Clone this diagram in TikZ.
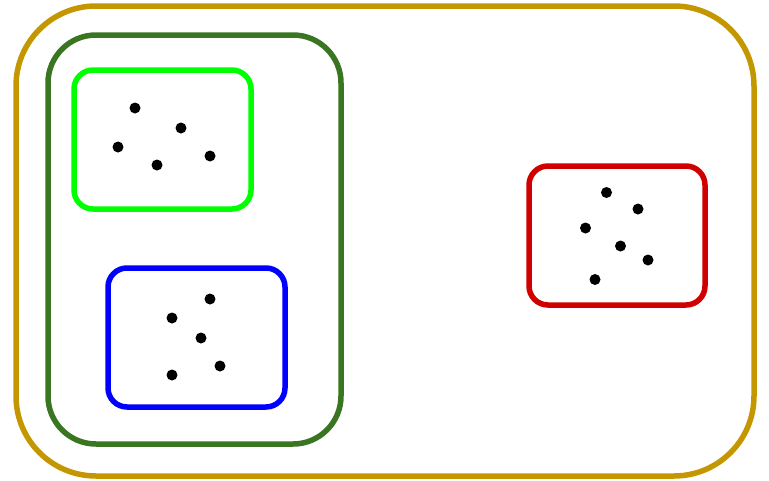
\documentclass[tikz,border=0pt]{standalone}
\definecolor{goldc}{RGB}{196,150,0}
\definecolor{dgreen}{RGB}{58,118,34}
\definecolor{bgreen}{RGB}{0,255,0}
\definecolor{bluec}{RGB}{0,0,255}
\definecolor{redc}{RGB}{208,0,0}
\begin{document}
\begin{tikzpicture}[x=1pt,y=-1pt,
  setbox/.style={draw=#1,line width=5.5pt},
  dot/.style={fill=black,circle,inner sep=0pt,minimum size=11pt}]
\useasboundingbox (0,0) rectangle (769,480);
\draw[setbox=goldc,rounded corners=80pt] (16,6) rectangle (754,476);
\draw[setbox=dgreen,rounded corners=48pt] (48,35) rectangle (341,444);
\draw[setbox=bgreen,rounded corners=19pt] (74,70) rectangle (251,209);
\draw[setbox=bluec,rounded corners=19pt] (108,268) rectangle (285,407);
\draw[setbox=redc,rounded corners=19pt] (529,166) rectangle (705,305);
% green set
\node[dot] (g1) at (135,108) {};
\node[dot] (g2) at (181,128) {};
\node[dot] (g3) at (118,147) {};
\node[dot] (g4) at (157,165) {};
\node[dot] (g5) at (210,156) {};
% blue set
\node[dot] (b1) at (210,299) {};
\node[dot] (b2) at (172,318) {};
\node[dot] (b3) at (201,338) {};
\node[dot] (b4) at (220,366) {};
\node[dot] (b5) at (172,375) {};
% red set
\node[dot] (r1) at (606.5,192.5) {};
\node[dot] (r2) at (638,209) {};
\node[dot] (r3) at (585.5,228) {};
\node[dot] (r4) at (620.5,246) {};
\node[dot] (r5) at (648,260) {};
\node[dot] (r6) at (595,279.5) {};
\end{tikzpicture}
\end{document}
